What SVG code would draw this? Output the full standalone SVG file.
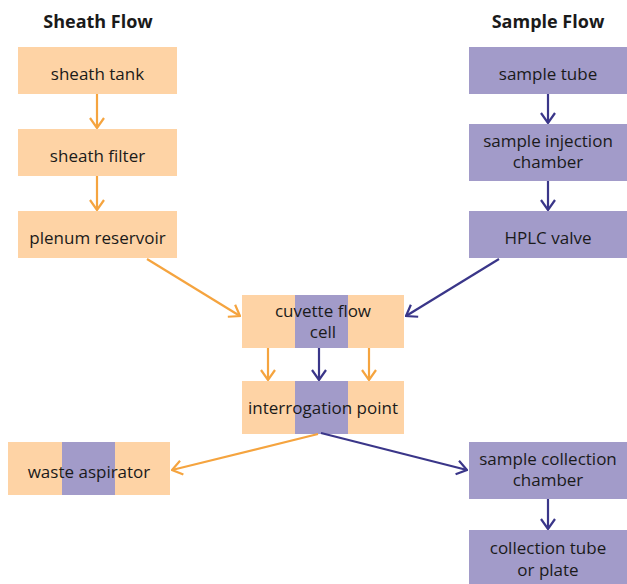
<svg xmlns="http://www.w3.org/2000/svg" width="627" height="584" viewBox="0 0 627 584">
<style>
.o{fill:#FED3A5}
.p{fill:#A29BC9}
text{font-family:"Open Sans","Noto Sans",sans-serif;font-size:17px;fill:#1a1a1a;text-anchor:middle}
.t{font-weight:bold;font-size:18px}
.ao{stroke:#F5A43F;stroke-width:2.2;fill:none}
.ap{stroke:#3A3689;stroke-width:2.2;fill:none}
</style>
<defs>
<marker id="mo" viewBox="0 0 12 16" refX="11" refY="8" markerWidth="12" markerHeight="16" markerUnits="userSpaceOnUse" orient="auto">
<path d="M1,1 L11,8 L1,15" fill="none" stroke="#F5A43F" stroke-width="2.2"/>
</marker>
<marker id="mp" viewBox="0 0 12 16" refX="11" refY="8" markerWidth="12" markerHeight="16" markerUnits="userSpaceOnUse" orient="auto">
<path d="M1,1 L11,8 L1,15" fill="none" stroke="#3A3689" stroke-width="2.2"/>
</marker>
</defs>
<text class="t" x="98" y="28">Sheath Flow</text>
<text class="t" x="548" y="28">Sample Flow</text>
<g id="sheath-tank"><rect class="o" x="18" y="47" width="159" height="47"/><text x="97.5" y="80">sheath tank</text></g>
<g id="sheath-filter"><rect class="o" x="18" y="129" width="159" height="47"/><text x="97.5" y="162">sheath filter</text></g>
<g id="plenum-reservoir"><rect class="o" x="18" y="211" width="159" height="47"/><text x="97.5" y="244">plenum reservoir</text></g>
<g id="sample-tube"><rect class="p" x="469" y="47" width="158" height="47"/><text x="548" y="80">sample tube</text></g>
<g id="sample-injection-chamber"><rect class="p" x="469" y="124" width="158" height="57"/><text x="548" y="147">sample injection<tspan x="548" dy="21">chamber</tspan></text></g>
<g id="hplc-valve"><rect class="p" x="469" y="211" width="158" height="47"/><text x="548" y="244">HPLC valve</text></g>
<g id="cuvette-flow-cell"><rect class="o" x="242" y="295" width="162" height="53"/><rect class="p" x="295" y="295" width="53" height="53"/><text x="323" y="317">cuvette flow<tspan x="323" dy="21">cell</tspan></text></g>
<g id="interrogation-point"><rect class="o" x="242" y="381" width="162" height="53"/><rect class="p" x="295" y="381" width="53" height="53"/><text x="323" y="414">interrogation point</text></g>
<g id="waste-aspirator"><rect class="o" x="8" y="442" width="162" height="53"/><rect class="p" x="62" y="442" width="53" height="53"/><text x="89" y="478">waste aspirator</text></g>
<g id="sample-collection-chamber"><rect class="p" x="469" y="442" width="158" height="57"/><text x="548" y="465">sample collection<tspan x="548" dy="21">chamber</tspan></text></g>
<g id="collection-tube"><rect class="p" x="469" y="530" width="158" height="54"/><text x="548" y="554">collection tube<tspan x="548" dy="22">or plate</tspan></text></g>
<g id="connectors">
<line class="ao" x1="97" y1="94" x2="97" y2="128" marker-end="url(#mo)"/>
<line class="ao" x1="97" y1="176" x2="97" y2="210" marker-end="url(#mo)"/>
<line class="ao" x1="147" y1="259" x2="240" y2="316" marker-end="url(#mo)"/>
<line class="ap" x1="548" y1="94" x2="548" y2="123" marker-end="url(#mp)"/>
<line class="ap" x1="548" y1="181" x2="548" y2="210" marker-end="url(#mp)"/>
<line class="ap" x1="499" y1="259" x2="406" y2="316" marker-end="url(#mp)"/>
<line class="ao" x1="268" y1="348" x2="268" y2="380" marker-end="url(#mo)"/>
<line class="ap" x1="319" y1="348" x2="319" y2="380" marker-end="url(#mp)"/>
<line class="ao" x1="369" y1="348" x2="369" y2="380" marker-end="url(#mo)"/>
<line class="ao" x1="318" y1="434" x2="172" y2="470" marker-end="url(#mo)"/>
<line class="ap" x1="321" y1="433" x2="467" y2="470" marker-end="url(#mp)"/>
<line class="ap" x1="548" y1="499" x2="548" y2="529" marker-end="url(#mp)"/>
</g>
</svg>
